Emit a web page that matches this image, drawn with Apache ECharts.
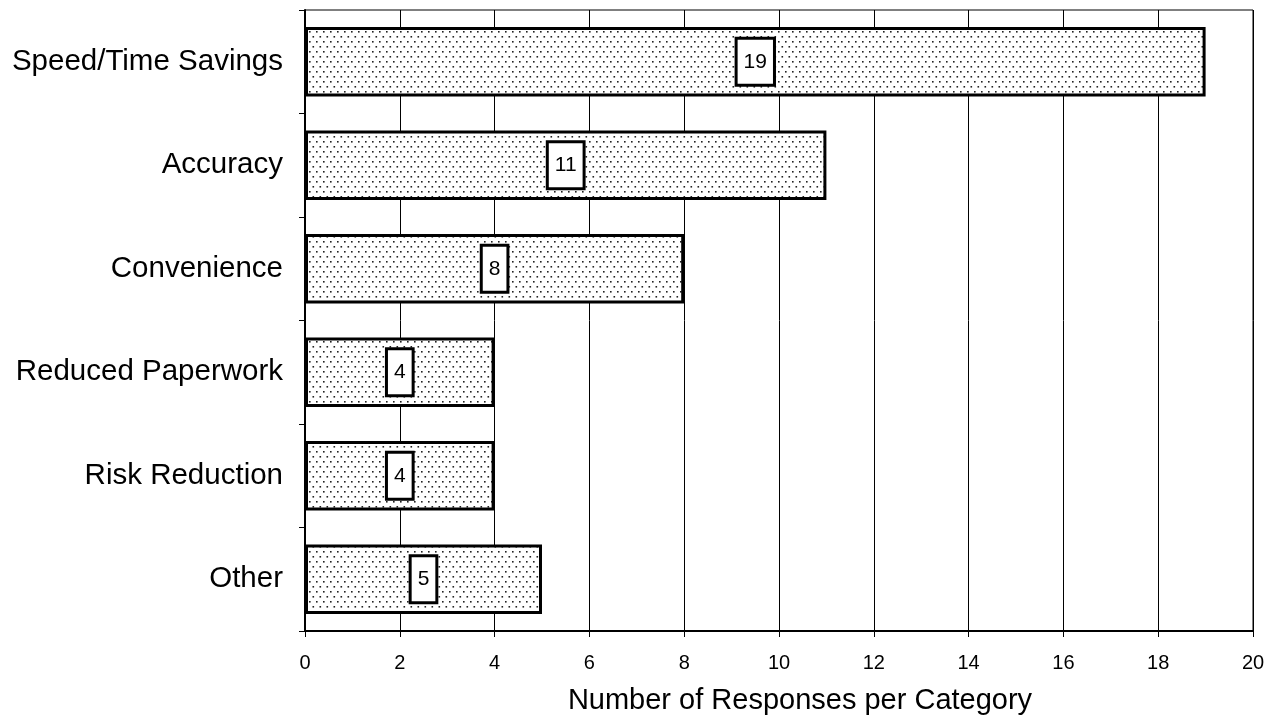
<!DOCTYPE html>
<html>
<head>
<meta charset="utf-8">
<script src="https://cdn.jsdelivr.net/npm/echarts@6/dist/echarts.min.js"></script>
<style>
html,body{margin:0;padding:0;background:#fff;}
#chart{width:1277px;height:723px;}
</style>
</head>
<body>
<div id="chart"></div>
<script>
// Survey responses: perceived benefits
const categories = ['Speed/Time Savings', 'Accuracy', 'Convenience', 'Reduced Paperwork', 'Risk Reduction', 'Other'];
const responses = [19, 11, 8, 4, 4, 5];
const xTicks = [0, 2, 4, 6, 8, 10, 12, 14, 16, 18, 20];

const FONT = 'Liberation Sans, Arial, sans-serif';

// Stippled fill tile: staggered rows of small dots
function dotPattern() {
  const c = document.createElement('canvas');
  c.width = 7; c.height = 10;
  const g = c.getContext('2d');
  g.fillStyle = '#fff';
  g.fillRect(0, 0, 7, 10);
  g.fillStyle = '#222';
  g.fillRect(1, 1, 1.6, 1.6);
  g.fillRect(4.5, 6, 1.6, 1.6);
  return c;
}

const chart = echarts.init(document.getElementById('chart'), null, {renderer: 'canvas'});
chart.setOption({
  animation: false,
  backgroundColor: '#fff',
  grid: {
    left: 305, right: 24, top: 10, bottom: 92,
    show: true, borderColor: '#000', borderWidth: 1, backgroundColor: 'transparent'
  },
  xAxis: {
    type: 'value',
    min: xTicks[0], max: xTicks[xTicks.length - 1], interval: 2,
    axisLine: {show: true, lineStyle: {color: '#000', width: 2}},
    axisTick: {show: true, length: 6, lineStyle: {color: '#000', width: 1}},
    splitLine: {show: true, lineStyle: {color: '#000', width: 1}},
    axisLabel: {color: '#000', fontSize: 20, fontFamily: FONT, margin: 22},
    name: 'Number of Responses per Category',
    nameLocation: 'middle', nameGap: 55,
    nameTextStyle: {color: '#000', fontSize: 29, fontFamily: FONT, padding: [0, 0, 0, 42]}
  },
  yAxis: {
    type: 'category',
    data: categories,
    inverse: true,
    axisLine: {show: true, lineStyle: {color: '#000', width: 2}},
    axisTick: {show: true, length: 6, lineStyle: {color: '#000', width: 1}},
    axisLabel: {color: '#000', fontSize: 29.5, fontFamily: FONT, margin: 22}
  },
  series: [{
    type: 'bar',
    data: responses,
    barCategoryGap: '33%',
    itemStyle: {
      color: {image: dotPattern(), repeat: 'repeat'},
      borderColor: '#000', borderWidth: 3
    },
    label: {
      show: true, position: 'inside',
      color: '#000', fontSize: 21, fontFamily: FONT,
      backgroundColor: '#fff', borderColor: '#000', borderWidth: 3,
      padding: [12, 6, 11, 6]
    }
  }]
});
</script>
</body>
</html>
